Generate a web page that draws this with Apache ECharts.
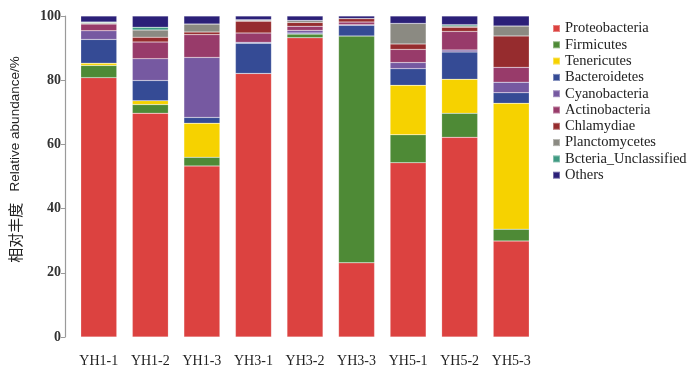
<!DOCTYPE html>
<html>
<head>
<meta charset="utf-8">
<script src="https://cdn.jsdelivr.net/npm/echarts@6/dist/echarts.min.js"></script>
<style>html,body{margin:0;padding:0;background:#fff}#c{width:700px;height:380px}</style>
</head>
<body>
<div id="c"></div>
<script>
const categories = ['YH1-1','YH1-2','YH1-3','YH3-1','YH3-2','YH3-3','YH5-1','YH5-2','YH5-3'];
const yTicks = [0, 20, 40, 60, 80, 100];
const Proteobacteria = [80.8, 69.7, 53.3, 82.1, 93.2, 23.1, 54.3, 62.2, 29.9];
const Firmicutes     = [3.8, 2.7, 2.7, 0, 1.2, 70.7, 8.7, 7.5, 3.7];
const Tenericutes    = [0.7, 1.2, 10.6, 0, 0, 0, 15.4, 10.6, 39.2];
const Bacteroidetes  = [7.4, 6.3, 1.8, 9.4, 0.3, 3.3, 5.2, 8.5, 3.3];
const Cyanobacteria  = [2.7, 6.8, 18.7, 0.3, 0.8, 0.2, 1.9, 0.6, 3.3];
const Actinobacteria = [2.1, 5.2, 7.1, 2.9, 1.3, 0.8, 4.1, 5.8, 4.6];
const Chlamydiae     = [0.1, 1.5, 0.8, 3.7, 1.2, 1.1, 1.7, 1.3, 9.8];
const Planctomycetes = [0.3, 2.2, 2.5, 0.3, 0.6, 0, 6.4, 0.4, 3.1];
const Unclassified   = [0.2, 0.9, 0, 0.1, 0, 0, 0, 0.4, 0];
const Others         = [1.9, 3.5, 2.5, 1.2, 1.4, 0.8, 2.3, 2.7, 3.1];

const seriesDefs = [
  ['Proteobacteria', Proteobacteria, '#dc4240'],
  ['Firmicutes', Firmicutes, '#4e8a36'],
  ['Tenericutes', Tenericutes, '#f6d200'],
  ['Bacteroidetes', Bacteroidetes, '#354b95'],
  ['Cyanobacteria', Cyanobacteria, '#7659a1'],
  ['Actinobacteria', Actinobacteria, '#983b6a'],
  ['Chlamydiae', Chlamydiae, '#962c2e'],
  ['Planctomycetes', Planctomycetes, '#8b8a82'],
  ['Bcteria_Unclassified', Unclassified, '#3f9a82'],
  ['Others', Others, '#2b2078']
];

const chart = echarts.init(document.getElementById('c'), null, {renderer: 'canvas'});
const font = "'Liberation Serif', 'Times New Roman', serif";
chart.setOption({
  animation: false,
  backgroundColor: '#fff',
  grid: {left: 65, right: 163, top: 16, bottom: 43},
  legend: {
    orient: 'vertical', left: 547, top: 16,
    itemWidth: 7, itemHeight: 7, itemGap: 1.3, icon: 'rect',
    textStyle: {fontFamily: font, fontSize: 14.5, color: '#222', padding: [0,0,0,0]},
    data: seriesDefs.map(s => s[0])
  },
  xAxis: {
    type: 'category', data: categories,
    axisLine: {show: false}, axisTick: {show: false},
    axisLabel: {interval: 0, fontFamily: font, fontSize: 14, color: '#222', margin: 17}
  },
  yAxis: {
    type: 'value', min: 0, max: 100, interval: 20, offset: 8,
    name: '{cn|相对丰度}{en|   Relative abundance/%}', nameLocation: 'middle', nameGap: 42,
    nameTextStyle: {
      color: '#222', padding: [0, 0, 0, 34],
      rich: {
        cn: {fontFamily: "'Noto Sans CJK SC', sans-serif", fontSize: 15, color: '#222'},
        en: {fontFamily: "'Liberation Sans', sans-serif", fontSize: 13.5, color: '#222'}
      }
    },
    axisLine: {show: true, lineStyle: {color: '#9a9a9a', width: 1.2}},
    axisTick: {show: true, length: 4, lineStyle: {color: '#9a9a9a'}},
    splitLine: {show: false},
    axisLabel: {fontFamily: font, fontSize: 14, fontWeight: 'bold', color: '#333', margin: 4,
      formatter: v => yTicks.includes(v) ? String(v) : ''}
  },
  series: seriesDefs.map(([name, data, color]) => ({
    name, type: 'bar', stack: 'total', data, barWidth: 36,
    itemStyle: {color, borderColor: 'rgba(255,255,255,0.35)', borderWidth: 0.5}
  }))
});
</script>
</body>
</html>
